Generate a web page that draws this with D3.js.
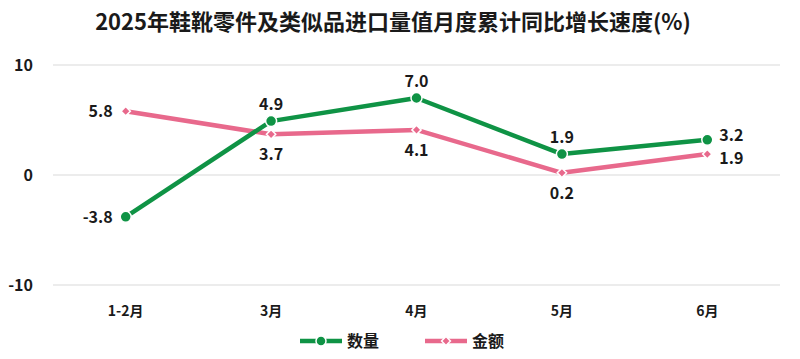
<!DOCTYPE html>
<html><head><meta charset="utf-8">
<script src="https://cdn.jsdelivr.net/npm/d3@7"></script>
<style>body{margin:0;background:#fff}svg{display:block}text{font-family:"Noto Sans CJK SC","Noto Sans",sans-serif;font-weight:bold;fill:#1a1a1a}</style>
</head><body><svg id="c" width="800" height="359"></svg>
<script>
const categories = ["1-2月","3月","4月","5月","6月"];
const quantity = [-3.8, 4.9, 7.0, 1.9, 3.2];
const amount = [5.8, 3.7, 4.1, 0.2, 1.9];
const yTicks = [-10, 0, 10];
const seriesNames = ["数量","金额"];
const title = "2025年鞋靴零件及类似品进口量值月度累计同比增长速度(%)";

const svg = d3.select("#c");
const L = 53, R = 780, T = 65, B = 285;
const x = d3.scaleBand().domain(categories).range([L, R]);
const y = d3.scaleLinear().domain([-10, 10]).range([B, T]);
const cx = d => x(d) + x.bandwidth()/2;
const green = "#0f9345", pink = "#e8698c";

svg.append("text").attr("x", 393).attr("y", 30).attr("text-anchor","middle")
  .style("font-size","22px").text(title);

svg.append("g").selectAll("line").data(yTicks).join("line")
  .attr("x1", L).attr("x2", R).attr("y1", d=>y(d)).attr("y2", d=>y(d))
  .attr("stroke","#d9d9d9").attr("stroke-width",1);
svg.append("g").selectAll("text").data(yTicks).join("text")
  .attr("x", 33).attr("y", d=>y(d)+6).attr("text-anchor","end")
  .style("font-size","16px").text(d=>d);
svg.append("g").selectAll("text").data(categories).join("text")
  .attr("x", d=>cx(d)).attr("y", 316).attr("text-anchor","middle")
  .style("font-size","14px").text(d=>d);

const line = d3.line().x((d,i)=>cx(categories[i])).y(d=>y(d));
function series(vals, color, shape, above){
  svg.append("path").datum(vals).attr("d", line).attr("fill","none")
    .attr("stroke", color).attr("stroke-width", 4.5).attr("stroke-linejoin","round");
  const g = svg.append("g");
  vals.forEach((v,i)=>{
    const px = cx(categories[i]), py = y(v);
    if (shape==="circle") g.append("circle").attr("cx",px).attr("cy",py).attr("r",5.5).attr("fill",color).attr("stroke","#fff").attr("stroke-width",1.5);
    else g.append("path").attr("d", d3.symbol(d3.symbolDiamond2, 55)()).attr("transform",`translate(${px},${py})`).attr("fill",color).attr("stroke","#fff").attr("stroke-width",1.5);
    let tx = px, ty, anchor = "middle";
    if (i===0){ tx = px-13; ty = py+6; anchor="end"; }
    else if (i===vals.length-1){ tx = px+12; ty = py + (above ? 1 : 10); anchor="start"; }
    else ty = above ? py-11 : py+26;
    g.append("text").attr("x",tx).attr("y",ty).attr("text-anchor",anchor).style("font-size","16px").text(v.toFixed(1));
  });
}
series(amount, pink, "diamond", false);
series(quantity, green, "circle", true);

const leg = [{n:seriesNames[0], c:green, s:"circle", x:300},{n:seriesNames[1], c:pink, s:"diamond", x:425}];
leg.forEach(l=>{
  svg.append("line").attr("x1",l.x).attr("x2",l.x+42).attr("y1",341).attr("y2",341).attr("stroke",l.c).attr("stroke-width",4.5);
  if (l.s==="circle") svg.append("circle").attr("cx",l.x+21).attr("cy",341).attr("r",5).attr("fill",l.c).attr("stroke","#fff").attr("stroke-width",1.5);
  else svg.append("path").attr("d", d3.symbol(d3.symbolDiamond2, 50)()).attr("transform",`translate(${l.x+21},341)`).attr("fill",l.c).attr("stroke","#fff").attr("stroke-width",1.5);
  svg.append("text").attr("x",l.x+47).attr("y",347).style("font-size","16px").text(l.n);
});
</script></body></html>
